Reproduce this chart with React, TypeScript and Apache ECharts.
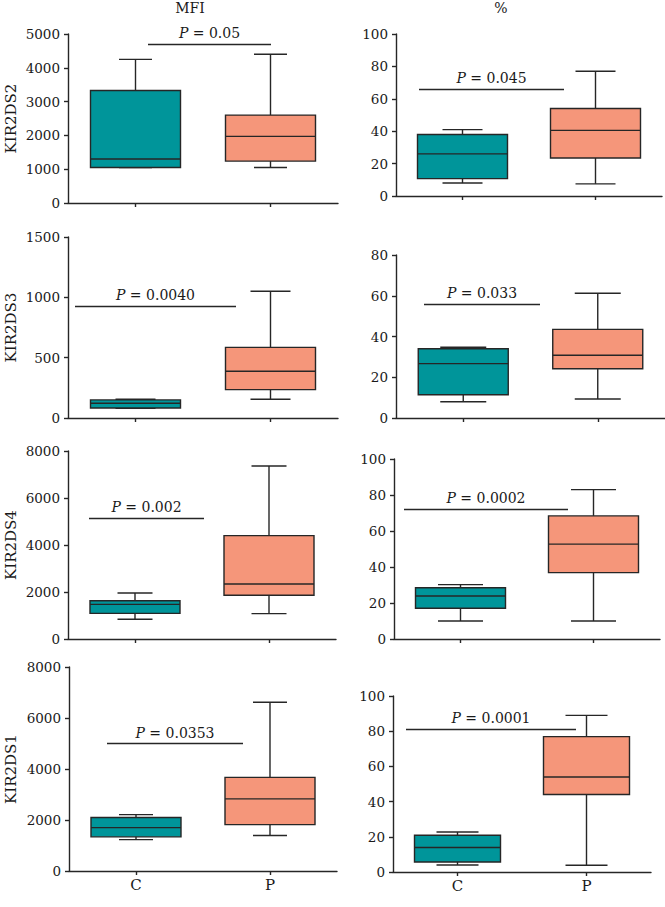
import React, { useEffect, useRef } from "react";
import * as echarts from "echarts";

// ---------- data ----------
const categories = ["C", "P"];
const columnTitles = ["MFI", "%"];
const rowNames = ["KIR2DS2", "KIR2DS3", "KIR2DS4", "KIR2DS1"];

// [min, Q1, median, Q3, max]
const kir2ds2MfiC = [1050, 1050, 1300, 3330, 4250];
const kir2ds2MfiP = [1050, 1240, 1970, 2600, 4400];
const kir2ds2PctC = [8, 10.7, 26, 38, 41];
const kir2ds2PctP = [7.5, 23.5, 40.5, 54, 77];
const kir2ds3MfiC = [80, 83, 122, 150, 155];
const kir2ds3MfiP = [155, 235, 388, 585, 1050];
const kir2ds3PctC = [8, 11.4, 26.7, 34, 34.7];
const kir2ds3PctP = [9.3, 24.2, 30.8, 43.5, 61.2];
const kir2ds4MfiC = [840, 1090, 1475, 1630, 1960];
const kir2ds4MfiP = [1080, 1860, 2340, 4400, 7360];
const kir2ds4PctC = [10, 17.1, 23.9, 28.5, 30.2];
const kir2ds4PctP = [10, 36.9, 52.7, 68.4, 83];
const kir2ds1MfiC = [1230, 1340, 1700, 2100, 2210];
const kir2ds1MfiP = [1390, 1820, 2830, 3670, 6620];
const kir2ds1PctC = [4, 5.7, 13.9, 20.9, 22.7];
const kir2ds1PctP = [3.8, 44, 54, 76.9, 89];

const pValues = ["0.05", "0.045", "0.0040", "0.033", "0.002", "0.0002", "0.0353", "0.0001"];
const pBarLevels = [4700, 66, 930, 56, 5150, 72.3, 5000, 81];

const yMaxes = [5000, 100, 1500, 80, 8000, 100, 8000, 100];
const yIntervals = [1000, 20, 500, 20, 2000, 20, 2000, 20];

const panelData = [
  [kir2ds2MfiC, kir2ds2MfiP],
  [kir2ds2PctC, kir2ds2PctP],
  [kir2ds3MfiC, kir2ds3MfiP],
  [kir2ds3PctC, kir2ds3PctP],
  [kir2ds4MfiC, kir2ds4MfiP],
  [kir2ds4PctC, kir2ds4PctP],
  [kir2ds1MfiC, kir2ds1MfiP],
  [kir2ds1PctC, kir2ds1PctP],
];

// ---------- layout (pixels) ----------
const grids = [
  { left: 68, top: 34, width: 270, height: 169 },
  { left: 396, top: 34, width: 266, height: 162 },
  { left: 68, top: 237, width: 270, height: 181 },
  { left: 396, top: 255, width: 270, height: 163 },
  { left: 68, top: 451, width: 268, height: 188 },
  { left: 394, top: 459, width: 266, height: 180 },
  { left: 69, top: 667, width: 268, height: 204 },
  { left: 393, top: 696, width: 258, height: 176 },
];
const barX = [
  [148, 271],
  [419, 564],
  [75, 236],
  [424, 540],
  [89, 204],
  [404, 568],
  [107, 243],
  [406, 576],
];
const boxWidths = [90, 90, 90, 90, 90, 90, 90, 86];
const capWidths = [33, 40, 40, 46, 35, 45, 34, 42];

const TEAL = "#00959a";
const SALMON = "#f5967a";
const INK = "#262626";
const TEXT = "#1a1a1a";
const FONT = "DejaVu Serif";

function makeRenderer(boxW: number, capW: number) {
  return (params: any, api: any) => {
    const xi = api.value(0);
    const pts = [1, 2, 3, 4, 5].map((i) => api.coord([xi, api.value(i)]));
    const cx = pts[0][0];
    const yMin = pts[0][1];
    const yQ1 = pts[1][1];
    const yMed = pts[2][1];
    const yQ3 = pts[3][1];
    const yMax = pts[4][1];
    const bh = boxW / 2;
    const ch = capW / 2;
    const stroke = { stroke: INK, lineWidth: 1.4 };
    const fill = params.dataIndex === 0 ? TEAL : SALMON;
    return {
      type: "group",
      children: [
        { type: "line", shape: { x1: cx, y1: yMax, x2: cx, y2: yQ3 }, style: stroke },
        { type: "line", shape: { x1: cx, y1: yQ1, x2: cx, y2: yMin }, style: stroke },
        { type: "line", shape: { x1: cx - ch, y1: yMax, x2: cx + ch, y2: yMax }, style: stroke },
        { type: "line", shape: { x1: cx - ch, y1: yMin, x2: cx + ch, y2: yMin }, style: stroke },
        {
          type: "rect",
          shape: { x: cx - bh, y: yQ3, width: boxW, height: yQ1 - yQ3 },
          style: { fill, stroke: INK, lineWidth: 1.4 },
        },
        { type: "line", shape: { x1: cx - bh, y1: yMed, x2: cx + bh, y2: yMed }, style: stroke },
      ],
    };
  };
}

export default function App() {
  const ref = useRef<HTMLDivElement>(null);
  useEffect(() => {
    if (!ref.current) return;
    const chart = echarts.init(ref.current, undefined, { renderer: "svg" });

    const xAxes = grids.map((_, i) => ({
      type: "category",
      gridIndex: i,
      data: categories,
      boundaryGap: true,
      axisLine: { show: true, lineStyle: { color: INK, width: 1.4 } },
      axisTick: { show: true, alignWithLabel: true, length: 4, lineStyle: { color: INK, width: 1.4 } },
      axisLabel: {
        show: i >= 6,
        fontFamily: FONT,
        fontSize: 15,
        color: TEXT,
        margin: 6,
      },
      splitLine: { show: false },
    }));
    const yAxes = grids.map((_, i) => ({
      type: "value",
      gridIndex: i,
      min: 0,
      max: yMaxes[i],
      interval: yIntervals[i],
      axisLine: { show: true, lineStyle: { color: INK, width: 1.4 } },
      axisTick: { show: true, length: 4, lineStyle: { color: INK, width: 1.4 } },
      axisLabel: {
        fontFamily: FONT,
        fontSize: 13.5,
        color: TEXT,
        margin: 8,
        formatter: (v: number) => String(v),
      },
      splitLine: { show: false },
    }));

    const series: any[] = [];
    panelData.forEach((pair, i) => {
      series.push({
        type: "custom",
        xAxisIndex: i,
        yAxisIndex: i,
        renderItem: makeRenderer(boxWidths[i], capWidths[i]),
        encode: { x: 0, y: [1, 2, 3, 4, 5] },
        data: pair.map((v, k) => [k, ...v]),
        silent: true,
      });
      series.push({
        type: "line",
        xAxisIndex: i,
        yAxisIndex: i,
        data: [],
        silent: true,
        markLine: {
          silent: true,
          symbol: ["none", "none"],
          lineStyle: { color: INK, width: 1.4, type: "solid" },
          label: {
            show: true,
            position: "middle",
            distance: 4,
            formatter: "{i|P} = " + pValues[i],
            fontFamily: FONT,
            fontSize: 14,
            color: TEXT,
            rich: {
              i: { fontFamily: FONT, fontStyle: "italic", fontSize: 14, color: TEXT },
            },
          },
          data: [
            [
              { xAxis: categories[0], yAxis: pBarLevels[i], x: barX[i][0] },
              { xAxis: categories[1], yAxis: pBarLevels[i], x: barX[i][1] },
            ],
          ],
        },
      });
    });

    const graphic: any[] = [];
    graphic.push({
      type: "text",
      x: 190,
      y: 8,
      style: { text: columnTitles[0], font: `14px "${FONT}"`, fill: TEXT, align: "center", verticalAlign: "middle" },
    });
    graphic.push({
      type: "text",
      x: 501,
      y: 8,
      style: { text: columnTitles[1], font: `14px "${FONT}"`, fill: TEXT, align: "center", verticalAlign: "middle" },
    });
    rowNames.forEach((name, r) => {
      const g = grids[r * 2];
      graphic.push({
        type: "text",
        x: 11,
        y: g.top + g.height / 2,
        rotation: Math.PI / 2,
        style: { text: name, font: `15px "${FONT}"`, fill: TEXT, align: "center", verticalAlign: "middle" },
      });
    });

    chart.setOption({
      animation: false,
      backgroundColor: "#ffffff",
      grid: grids.map((g) => ({ ...g, containLabel: false })),
      xAxis: xAxes,
      yAxis: yAxes,
      series,
      graphic,
    });
    return () => chart.dispose();
  }, []);
  return (
    <div
      ref={ref}
      style={{ position: "absolute", left: 0, top: 0, width: 665, height: 907 }}
    />
  );
}
